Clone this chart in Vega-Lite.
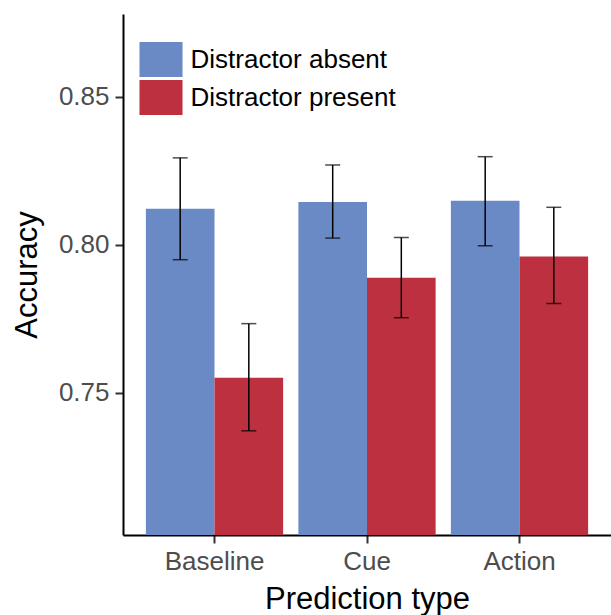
{
  "$schema": "https://vega.github.io/schema/vega-lite/v6.json",
  "width": 488,
  "height": 521,
  "autosize": {"type": "none"},
  "padding": {"left": 123, "top": 14, "right": 0, "bottom": 80},
  "background": "white",
  "config": {
    "view": {"stroke": null},
    "font": "Liberation Sans",
    "axis": {
      "grid": false,
      "domainColor": "black",
      "domainWidth": 2,
      "tickColor": "#333333",
      "tickWidth": 2,
      "tickSize": 8,
      "labelColor": "#4d4d4d",
      "labelFontSize": 26,
      "titleFontSize": 31,
      "titleFontWeight": "normal",
      "titleColor": "black"
    },
    "legend": {
      "orient": "none",
      "legendX": 20.5,
      "legendY": 28,
      "padding": 0,
      "symbolType": "M-1.23,-1H1.23V1H-1.23Z",
      "symbolSize": 1225,
      "symbolStrokeWidth": 0,
      "symbolOpacity": 1,
      "labelFontSize": 26,
      "labelColor": "black",
      "labelOffset": 12,
      "rowPadding": 3,
      "labelLimit": 400
    }
  },
  "data": {
    "values": [
      {"type": "Baseline", "cond": "Distractor absent", "acc": 0.8122, "lo": 0.7950, "hi": 0.8294},
      {"type": "Baseline", "cond": "Distractor present", "acc": 0.7551, "lo": 0.7372, "hi": 0.7734},
      {"type": "Cue", "cond": "Distractor absent", "acc": 0.8145, "lo": 0.8023, "hi": 0.8270},
      {"type": "Cue", "cond": "Distractor present", "acc": 0.7889, "lo": 0.7754, "hi": 0.8025},
      {"type": "Action", "cond": "Distractor absent", "acc": 0.8149, "lo": 0.7997, "hi": 0.8298},
      {"type": "Action", "cond": "Distractor present", "acc": 0.7961, "lo": 0.7802, "hi": 0.8127}
    ]
  },
  "encoding": {
    "x": {
      "field": "type",
      "type": "nominal",
      "sort": ["Baseline", "Cue", "Action"],
      "scale": {"paddingInner": 0.1, "paddingOuter": 0.15},
      "axis": {"labelAngle": 0, "title": "Prediction type", "labelPadding": 5, "titlePadding": 10}
    },
    "xOffset": {
      "field": "cond",
      "type": "nominal",
      "sort": ["Distractor absent", "Distractor present"],
      "scale": {"paddingInner": 0, "paddingOuter": 0}
    }
  },
  "layer": [
    {
      "mark": {"type": "bar", "clip": true},
      "encoding": {
        "y": {
          "field": "acc",
          "type": "quantitative",
          "stack": null,
          "scale": {"domain": [0.702, 0.878], "nice": false, "zero": false},
          "axis": {"values": [0.75, 0.8, 0.85], "format": ".2f", "title": "Accuracy", "labelPadding": 6, "titlePadding": 15}
        },
        "y2": {"datum": 0.702},
        "color": {
          "field": "cond",
          "type": "nominal",
          "scale": {"domain": ["Distractor absent", "Distractor present"], "range": ["#6a8ac6", "#bd3040"]},
          "legend": {"title": null}
        }
      }
    },
    {
      "mark": {"type": "rule", "color": "black", "strokeWidth": 1.5},
      "encoding": {
        "y": {"field": "lo", "type": "quantitative"},
        "y2": {"field": "hi"}
      }
    },
    {
      "mark": {"type": "tick", "color": "black", "thickness": 1.5, "size": 15},
      "encoding": {
        "y": {"field": "lo", "type": "quantitative"}
      }
    },
    {
      "mark": {"type": "tick", "color": "black", "thickness": 1.5, "size": 15},
      "encoding": {
        "y": {"field": "hi", "type": "quantitative"}
      }
    }
  ]
}
